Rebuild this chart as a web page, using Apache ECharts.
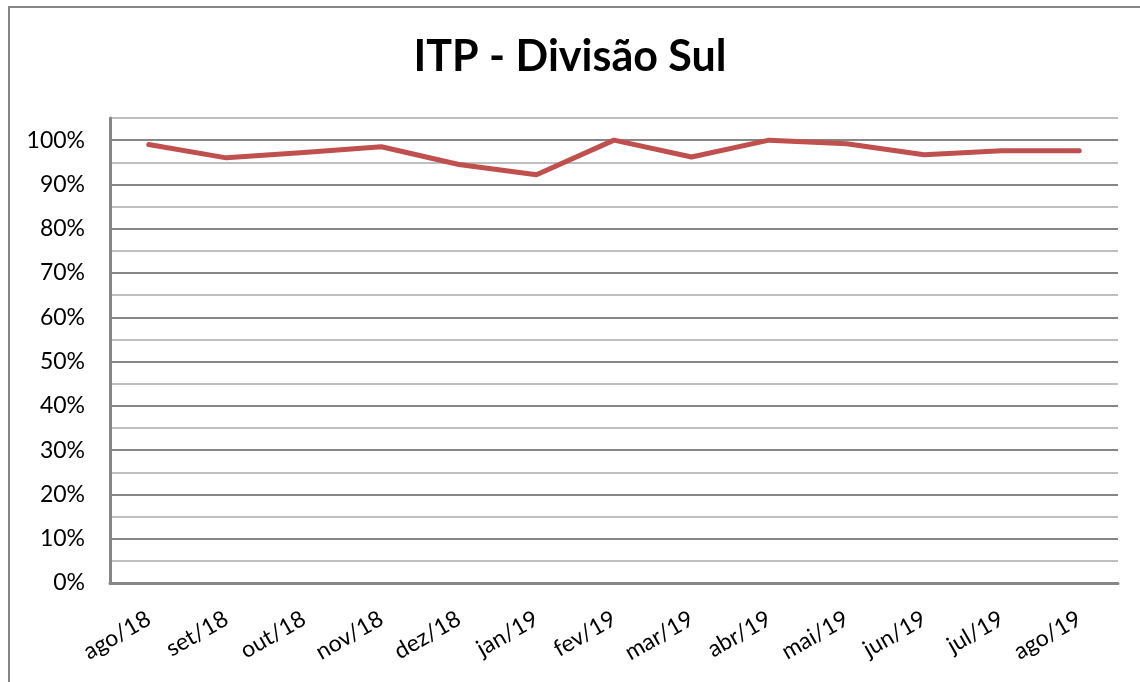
<!DOCTYPE html>
<html>
<head>
<meta charset="utf-8">
<script src="https://cdn.jsdelivr.net/npm/echarts@6/dist/echarts.min.js"></script>
<style>
  html, body { margin: 0; padding: 0; background: #fff; }
  #frame {
    position: absolute; left: 8px; top: 6px; width: 1140px; height: 690px;
    border: 2px solid #868686; box-sizing: border-box;
  }
  #line-chart { position: absolute; left: 0; top: 0; width: 1140px; height: 682px; }
</style>
</head>
<body>
<div id="frame"></div>
<div id="line-chart"></div>
<script>
// categorias (meses)
const months = ['ago/18', 'set/18', 'out/18', 'nov/18', 'dez/18', 'jan/19', 'fev/19',
  'mar/19', 'abr/19', 'mai/19', 'jun/19', 'jul/19', 'ago/19'];
// valores ITP em %
const itpValues = [99.0, 96.0, 97.2, 98.5, 94.5, 92.2, 100.0, 96.2, 100.0, 99.2, 96.7, 97.6, 97.6];

const chart = echarts.init(document.getElementById('line-chart'));

const option = {
  animation: false,
  title: {
    text: 'ITP - Divisão Sul',
    left: 'center',
    top: 31,
    textStyle: { fontFamily: 'Lato', fontSize: 43, fontWeight: 'bold', color: '#000' }
  },
  grid: { left: 110, right: 22, top: 118, bottom: 99 },
  xAxis: {
    type: 'category',
    data: months,
    boundaryGap: true,
    axisLine: { lineStyle: { color: '#868686', width: 3 } },
    axisTick: { show: false },
    axisLabel: {
      rotate: 30,
      margin: 34,
      fontFamily: 'Lato',
      fontSize: 23,
      color: '#000'
    }
  },
  yAxis: {
    type: 'value',
    min: 0,
    max: 105,
    interval: 5,
    axisLine: { show: true, lineStyle: { color: '#868686', width: 3 } },
    axisTick: { show: false },
    axisLabel: {
      margin: 25,
      fontFamily: 'Lato',
      fontSize: 23,
      color: '#000',
      formatter: v => (v % 10 === 0 ? v + '%' : '')
    },
    splitLine: { show: true, lineStyle: { color: ['#868686', '#bfbfbf'], width: 2 } }
  },
  series: [
    {
      name: 'ITP',
      type: 'line',
      data: itpValues,
      symbol: 'none',
      lineStyle: { color: '#c0504d', width: 5, cap: 'round', join: 'round' }
    }
  ]
};

chart.setOption(option);
</script>
</body>
</html>
